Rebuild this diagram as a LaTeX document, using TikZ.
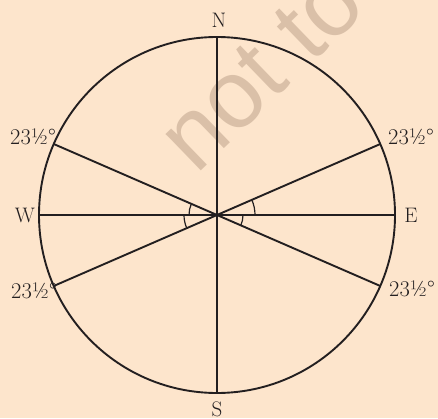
\documentclass[tikz,border=0pt]{standalone}
\usepackage{fontspec}
\newfontfamily\wmfont{Liberation Sans}
\definecolor{bg}{RGB}{253,229,204}
\definecolor{wm}{RGB}{218,192,168}
\definecolor{ink}{RGB}{35,31,32}
\tikzset{
  mainline/.style={draw=ink, line width=1.9pt},
  anglearc/.style={draw=ink, line width=1.2pt},
  lbl/.style={inner sep=0pt, text=ink, font=\fontsize{21}{25}\selectfont},
  deglbl/.style={inner sep=0pt, text=ink, font=\fontsize{22.5}{26}\selectfont},
}
\begin{document}
\begin{tikzpicture}[x=1pt,y=1pt]
\fill[bg] (0,0) rectangle (438,418);
\useasboundingbox (0,0) rectangle (438,418);
\begin{scope}
\clip (0,0) rectangle (438,418);
\node[anchor=base west, rotate=44, text=wm, inner sep=0pt, font=\wmfont\fontsize{96}{100}\selectfont] (wmark) at (196,242) {not to};
\end{scope}
\coordinate (O) at (217,203);
\def\R{178}
\path (O) ++(90:\R) coordinate (Ntop);
\path (O) ++(-90:\R) coordinate (Sbot);
\path (O) ++(180:\R) coordinate (Wend);
\path (O) ++(0:\R) coordinate (Eend);
\path (O) ++(23.5:\R) coordinate (UR);
\path (O) ++(156.5:\R) coordinate (UL);
\path (O) ++(203.5:\R) coordinate (LL);
\path (O) ++(-23.5:\R) coordinate (LR);
\draw[mainline] (O) circle (\R);
\draw[mainline] (Ntop) -- (Sbot);
\draw[mainline] (Wend) -- (Eend);
\draw[mainline] (UL) -- (LR);
\draw[mainline] (LL) -- (UR);
\draw[anglearc] (O) ++(156.5:28) arc (156.5:180:28);
\draw[anglearc] (O) ++(180:33) arc (180:203.5:33);
\draw[anglearc] (O) ++(0:38) arc (0:23.5:38);
\draw[anglearc] (O) ++(-23.5:26) arc (-23.5:0:26);
\node[lbl] (nN) at (219,398) {N};
\node[lbl] (nS) at (217,9) {S};
\node[lbl] (nW) at (25,203) {W};
\node[lbl] (nE) at (411,203) {E};
\node[deglbl] (aUL) at (33,281) {23½°};
\node[deglbl] (aLL) at (34,127) {23½°};
\node[deglbl] (aUR) at (411,281) {23½°};
\node[deglbl] (aLR) at (412,129) {23½°};
\end{tikzpicture}
\end{document}
